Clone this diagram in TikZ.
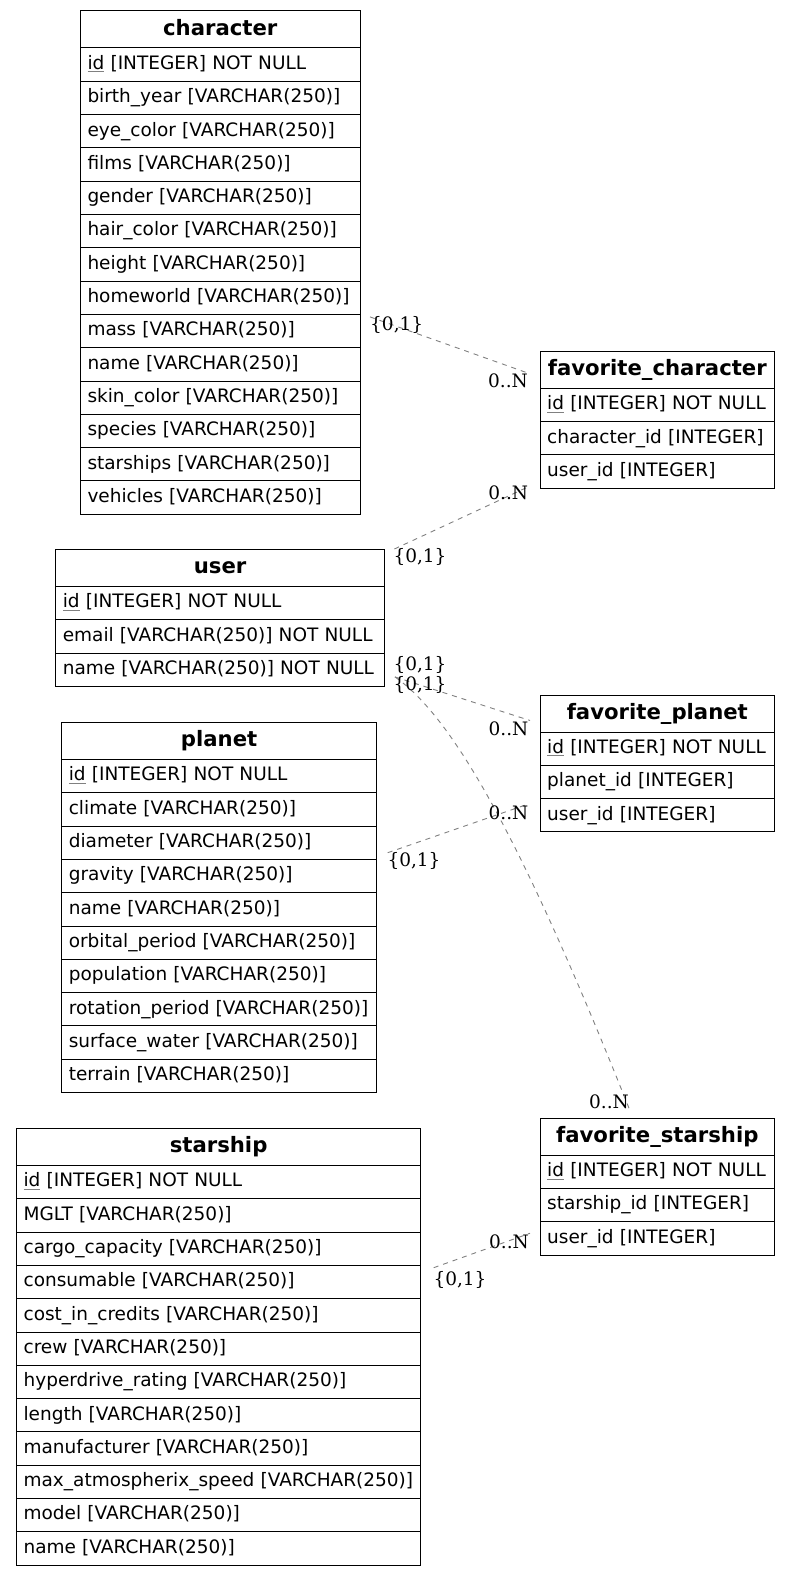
\documentclass[tikz,border=0pt]{standalone}
\usepackage{fontspec}
\setmainfont{DejaVu Sans}
\newfontfamily\cardfont{DejaVu Serif}
\usetikzlibrary{calc}

\tikzset{
  cell/.style={draw=black, line width=1pt, anchor=north west, inner xsep=7pt, inner ysep=0pt},
  headcell/.style={cell, minimum height=37pt, align=center, text height=14pt, text depth=2.4pt,
    font=\fontsize{21.2}{25}\selectfont\bfseries},
  rowcell/.style={cell, minimum height=33.3pt, align=left, text height=14pt, text depth=4.5pt,
    font=\fontsize{18.5}{22}\selectfont},
  rel/.style={draw=black!50, dash pattern=on 5pt off 5pt, line width=0.9pt},
  card/.style={font=\cardfont\fontsize{18.5}{22}\selectfont, inner sep=0pt},
}

% primary key: text with a thin grey underline
\newsavebox\pkbox
\newcommand\pk[1]{\leavevmode\sbox\pkbox{#1}%
  \rlap{\textcolor{black!50}{\rule[-3pt]{\wd\pkbox}{1pt}}}\usebox\pkbox}

% #1 name, #2 left, #3 top, #4 width, #5 title, #6 rows
\newcommand\ertable[6]{%
  \pgfmathsetmacro\tw{#4-14}%
  \node[headcell, text width=\tw pt] (#1) at (#2,#3) {#5};
  \foreach \r [count=\i] in {#6} {
    \node[rowcell, text width=\tw pt] (#1-\i) at (#2,{#3+37+(\i-1)*33.3}) {\r};
  }
}

\begin{document}
\begin{tikzpicture}[x=1pt, y=-1pt]
\useasboundingbox (0,0) rectangle (791,1576);

\ertable{character}{80}{10.5}{279.5}{character}{%
  \pk{id} [INTEGER] NOT NULL, birth\_year [VARCHAR(250)], eye\_color [VARCHAR(250)],
  films [VARCHAR(250)], gender [VARCHAR(250)], hair\_color [VARCHAR(250)],
  height [VARCHAR(250)], homeworld [VARCHAR(250)], mass [VARCHAR(250)],
  name [VARCHAR(250)], skin\_color [VARCHAR(250)], species [VARCHAR(250)],
  starships [VARCHAR(250)], vehicles [VARCHAR(250)]}

\ertable{favchar}{539.7}{350.8}{234.2}{favorite\_character}{%
  \pk{id} [INTEGER] NOT NULL, character\_id [INTEGER], user\_id [INTEGER]}

\ertable{user}{55.3}{549}{328.6}{user}{%
  \pk{id} [INTEGER] NOT NULL, email [VARCHAR(250)] NOT NULL, name [VARCHAR(250)] NOT NULL}

\ertable{favplanet}{539.7}{694.5}{234.2}{favorite\_planet}{%
  \pk{id} [INTEGER] NOT NULL, planet\_id [INTEGER], user\_id [INTEGER]}

\ertable{planet}{61.3}{722}{314.6}{planet}{%
  \pk{id} [INTEGER] NOT NULL, climate [VARCHAR(250)], diameter [VARCHAR(250)],
  gravity [VARCHAR(250)], name [VARCHAR(250)], orbital\_period [VARCHAR(250)],
  population [VARCHAR(250)], rotation\_period [VARCHAR(250)], surface\_water [VARCHAR(250)],
  terrain [VARCHAR(250)]}

\ertable{favship}{539.7}{1117.7}{234.2}{favorite\_starship}{%
  \pk{id} [INTEGER] NOT NULL, starship\_id [INTEGER], user\_id [INTEGER]}

\ertable{starship}{16.1}{1128}{404}{starship}{%
  \pk{id} [INTEGER] NOT NULL, MGLT [VARCHAR(250)], cargo\_capacity [VARCHAR(250)],
  consumable [VARCHAR(250)], cost\_in\_credits [VARCHAR(250)], crew [VARCHAR(250)],
  hyperdrive\_rating [VARCHAR(250)], length [VARCHAR(250)], manufacturer [VARCHAR(250)],
  max\_atmospherix\_speed [VARCHAR(250)], model [VARCHAR(250)], name [VARCHAR(250)]}

% relations
\draw[rel] ($(character-8.south east)+(9.5,2)$) -- ($(favchar.west)+(-12.5,3)$);
\draw[rel] ($(user.north east)+(9.5,0)$) -- ($(favchar-3.south west)+(-9.7,-2.7)$);
\draw[rel] ($(user-3.south east)+(10,-10)$) -- ($(favplanet.west)+(-9.7,7)$);
\draw[rel] ($(user-3.south east)+(10,-10)$) .. controls ($(user-3.south east)+(66,29)$) and ($(user-3.south east)+(134,144)$) .. ($(favship.north)+(-26.8,-5.7)$);
\draw[rel] ($(planet-3.south east)+(10.8,-7.2)$) -- ($(favplanet-2.south west)+(-11.7,5)$);
\draw[rel] ($(starship-3.south east)+(12.6,1.8)$) -- ($(favship-3.west)+(-9.7,-5.2)$);

% cardinalities
\node[card] (c1a) at (396.7,325) {\{0,1\}};
\node[card] (c1b) at (508,381) {0..N};
\node[card] (c2a) at (508.3,493) {0..N};
\node[card] (c2b) at (420,557) {\{0,1\}};
\node[card] (c3a) at (420,665) {\{0,1\}};
\node[card] (c3b) at (420,685) {\{0,1\}};
\node[card] (c3c) at (508.5,729) {0..N};
\node[card] (c4a) at (609,1102) {0..N};
\node[card] (c5a) at (508.5,813) {0..N};
\node[card] (c5b) at (414,861) {\{0,1\}};
\node[card] (c6a) at (509,1241.7) {0..N};
\node[card] (c6b) at (460,1280) {\{0,1\}};
\end{tikzpicture}
\end{document}
